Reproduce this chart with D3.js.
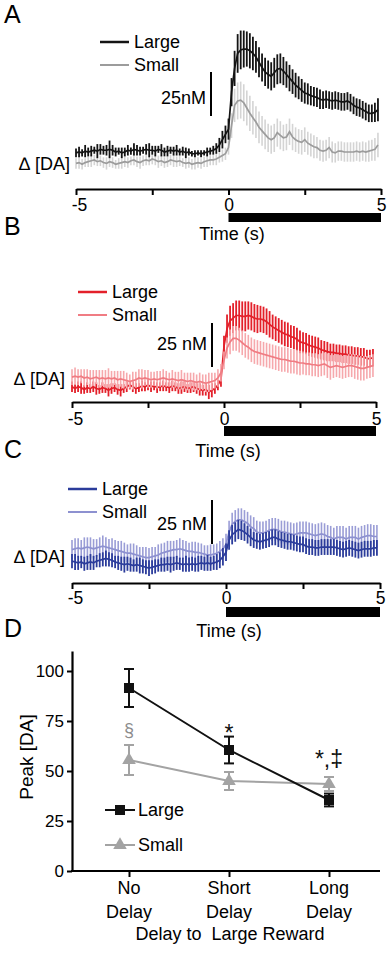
<!DOCTYPE html>
<html>
<head>
<meta charset="utf-8">
<script src="https://cdnjs.cloudflare.com/ajax/libs/d3/7.8.5/d3.min.js"></script>
<style>
	body { margin: 0; background: #fff; }
	svg { display: block; font-family: "Liberation Sans", Arial, sans-serif; }
</style>
</head>
<body>
<div id="fig"></div>
<script>
// sample times, -5 to 4.9 s every 0.1 s
var times = d3.range(100).map(function(i) { return Math.round(-50 + i) / 10; });
var timeTicks = [-5, -2.5, 0, 2.5, 5];

// panel A, change in DA (nM), mean and sem
var largeA = [-0.5,0,-0.5,0.5,0,0.5,1,0.5,1.5,1, 1,1.5,1,0,0.5,-0.5,0,1,0.5,1.5,
	1,0.5,1,1.5,1,1,0.5,1.5,1,0, 0.5,1,0.5,1,0,0.5,-0.5,0,-1,-1,
	-0.5,-1,-0.5,0,0.5,1,2,4,7,10,
	13,34,47.5,56,58,58.5,58.5,57.5,56,54, 51,48,45.5,44,43,45,47,47.5,46,44,
	42,40,38,36.5,35,33.5,33,32,31.5,31, 30,29.5,30,29.5,29,29.5,29,28.5,28.5,29,
	28,26.5,25.5,25,24,23,22,22,22.5,24];
var largeAErr = [2.5,3,2,3.5,2.5,3,2,4,3,2.5, 3,5,3,2.5,2,3,2.5,3,2,3.5,
	3,2.5,2,3,4,2.5,3,2,3.5,2.5, 3,2,2.5,3,2,2.5,3,2,1.5,2,
	1.5,2,1.5,2.5,2,2.5,3,4,5,5,
	6,8,10,11,11,10.5,10,10,9.5,9, 8.5,8,8,8,8,8.5,8.5,8.5,8,7.5,
	7.5,7,7,6.5,6.5,6,6,5.5,5.5,5.5, 5.5,5,5,5,5,5,5,5,5,5,
	5,5,5,5,5,5,5,5,5.5,6.5];
var smallA = [-6.5,-6,-7,-6,-5.5,-5,-4.5,-5.5,-5,-6, -6.5,-5.5,-6,-7,-6.5,-6,-5.5,-6,-5,-4.5,
	-5.5,-6,-5,-4.5,-5,-4,-4.5,-5.5,-5,-6, -5.5,-4.5,-5,-5.5,-5,-6,-6.5,-6,-7,-6.5,
	-6,-6.5,-5.5,-5,-4.5,-4.5,-4,-3,-2,-1,
	2.5,15,26.5,29,29.5,28,25,22,19.5,17, 14,12,10,8,7,8,11,9.5,8,8.5,
	11.5,8.5,7,6,5.5,7,5,4,3,2.5, 1,0.5,1,2.5,0,-0.5,0.5,0.5,0,0,
	0,0,0.5,0,0.5,0,0.5,1,1.5,4];
var smallAErr = [3,3.5,3,2.5,3,3.5,3,2.5,3,3, 3.5,3,3,2.5,3,3.5,3,3,2.5,3,
	3,3.5,3,3,2.5,3,3,3.5,3,3, 3,3,3.5,3,3,2.5,3,3,3,3.5,
	3,3,3,3.5,3,3,3.5,3,3.5,3.5,
	4,7,9.5,10.5,10.5,10.5,10,10,9.5,9, 9,8.5,8.5,8,8,8,8,8,7.5,7.5,
	7.5,7.5,7,7,7,7,6.5,6.5,6.5,6, 6,6,6,6,6,5.5,5.5,5.5,5.5,5.5,
	5.5,5.5,5.5,5.5,5.5,5.5,6,6,6.5,7];

// panel B
var largeB = [-1,-2,-1,-1.5,-2.5,-1.5,-2,-1,-2,-2.5, -1.5,-2,-3,-2,-1.5,-2.5,-3,-2,-1,0,
	-1,-2,-1.5,-0.5,-1,0,-1,-0.5,-1.5,-1, -0.5,-1,-1.5,-0.5,-1,-2,-1.5,-1,-2,-1.5,
	-1,-2,-2.5,-3,-2.5,-4,-3,-2,0,3,
	22,32,36.5,38,39.5,39.5,39,39,39.5,39, 38,37.5,37.5,37,36,34.5,33,32,31,30,
	29,28.5,27.5,27,26,24.5,24,23.5,22.5,22, 21.5,21,20,19.5,19,18.5,18.5,18,18,17.5,
	17.5,17,17,16.5,16.5,16,16,15,15,15.5];
var largeBErr = [3,2.5,3,3.5,2.5,3,2.5,3,3.5,2.5, 3,2.5,3.5,3,2.5,3,3.5,2.5,3,2.5,
	3,3,2.5,3,2.5,3,3,2.5,3,2.5, 3,2.5,3,3,2.5,3,3.5,3,2.5,3,
	3,3,3.5,3,3.5,4,4,3,3,4,
	6,8,8.5,8.5,8.5,8.5,8.5,8.5,8,8, 8,8,7.5,7.5,7.5,7.5,7,7,7,7,
	7,7,6.5,6.5,6.5,6.5,6,6,6,6, 6,6,5.5,5.5,5.5,5,5,5,5,5,
	5,5,5,5,5,5,5,5,5,5];
var smallB = [4.5,5,4.5,5,4,4.5,3.5,4,4.5,3.5, 4,3.5,4,3.5,4,3,3.5,3,2.5,2,
	2.5,3,4,3.5,4,3.5,3,3.5,3,3.5, 4,3.5,3,3.5,3,2.5,3,2.5,2,2.5,
	2,1.5,2,1.5,1,1.5,2,2.5,4,7,
	14,21,24.5,26.5,26.5,25.5,24,22.5,21.5,20, 19,18.5,18,17.5,17,16.5,16,15.5,15,14.5,
	14.5,14,13.5,13.5,13,12.5,12.5,12,12,11.5, 11.5,11,11.5,12,11,10,10.5,11,10.5,10,
	10.5,11,11,10.5,10,9.5,9.5,10,10.5,11];
var smallBErr = [4.5,5,4.5,4,5,4.5,5,4.5,4,5, 4.5,5,5.5,4.5,4,5,4.5,5,4.5,4,
	5,4.5,5,5.5,4.5,5,4.5,4,5,4.5, 5,4.5,4,5,4.5,5,5.5,4.5,5,4.5,
	5,4.5,5,4.5,5,5.5,5,4.5,5,5,
	5,6,7,7,7,7,7,7,7,7, 7,7,7,7,7,7,7,7,7,7,
	7,7,7,7,7,7,6.5,6.5,6.5,6.5, 6.5,6.5,6.5,6.5,7,7,6.5,6.5,6.5,6.5,
	6.5,6.5,6.5,7,7,7,7,6.5,6.5,6.5];

// panel C
var largeC = [0.5,0,-0.5,0,-1,-0.5,0,-0.5,0.5,1, 1.5,2,1.5,1,0,-0.5,-1,-1.5,-1,-1.5,
	-2,-1.5,-2,-2.5,-3,-3.5,-3,-2.5,-2,-1.5, -1.5,-1,-1.5,-1,-0.5,-1,-1.5,-1,-1.5,-1,
	-1.5,-1,-0.5,-1,-0.5,-1,-0.5,0,1,3,
	5.5,12.5,15.5,17,18.5,18,17,15.5,14,12.5, 12,11.5,12,12.5,13,14,14,13,12.5,12,
	11.5,11.5,11,10.5,10,10,9,8.5,8.5,8, 8,8.5,8.5,8.5,8.5,8.5,8,7.5,7,7.5,
	8,7.5,7,6.5,7,7.5,7.5,7.5,8,8];
var largeCErr = [4,4.5,4,3.5,4,4,4.5,4,3.5,4, 4,4.5,4,4,3.5,4,4,4.5,4,4,
	3.5,4,4.5,4,4,4.5,4,4,3.5,4, 4,4,4.5,4,4,3.5,4,4.5,4,4,
	4,4.5,4,4,4.5,4,4,4.5,4.5,5,
	5,5.5,5.5,5.5,5.5,5.5,5,5,5,4.5, 4.5,4.5,4.5,4.5,4.5,4.5,4.5,4.5,4.5,4.5,
	4.5,4.5,4.5,4.5,4.5,4.5,4.5,4.5,4.5,4.5, 4.5,4.5,4.5,4.5,4.5,4.5,4.5,4.5,4.5,4.5,
	4.5,4.5,4.5,4.5,4.5,4.5,4.5,4.5,4.5,4.5];
var smallC = [7,7.5,8,7.5,8,8.5,8,7.5,8,8.5, 9,8.5,8,7.5,7,6.5,6,5.5,5,5,
	4.5,4,3.5,3,2.5,2.5,3,3.5,4,5, 5.5,6,6.5,7,7,7.5,7,6.5,6,6,
	5.5,5.5,5,4.5,4,4,4.5,5,6,7.5,
	10,17,21.5,23,24,24,23,22,20,19, 17,16.5,16.5,17,18,18.5,18.5,18,17,17,
	16.5,16,15.5,16,16.5,16.5,16.5,16,15.5,15, 15.5,16,15.5,14.5,14,13,14,14,14,13,
	14,14,14,13,14,14.5,15,15,14.5,14.5];
var smallCErr = [5.5,6,5.5,5,6,5.5,6,5.5,5,5.5, 6,5.5,5,6,5.5,5.5,6,5.5,5,5.5,
	6,5.5,5,5.5,6,5.5,5.5,5,6,5.5, 5.5,6,5.5,5,5.5,6,5.5,5.5,5,5.5,
	6,5.5,5.5,5,5.5,6,5.5,5.5,6,6,
	6,6.5,6.5,6.5,6.5,6.5,6.5,6.5,6.5,6.5, 6.5,6.5,6.5,6.5,6.5,6.5,6.5,6.5,6.5,6.5,
	6.5,6.5,6.5,6.5,6.5,6.5,6.5,6.5,6.5,6.5, 6.5,6.5,6.5,6.5,6.5,6.5,6.5,6.5,6.5,6.5,
	6.5,6.5,6.5,6.5,6.5,6.5,6.5,6.5,6.5,6.5];

// panel D, peak DA by delay
var delayCats = ["No Delay", "Short Delay", "Long Delay"];
var peakLarge = [91.5, 60.5, 35.5];
var peakLargeErr = [9.5, 6.7, 3.2];
var peakSmall = [55.5, 45, 43.5];
var peakSmallErr = [7.5, 4.5, 3.5];
var peakTicks = [0, 25, 50, 75, 100];
var sigMarks = ["§", "*", "*,‡"];

var svg = d3.select("#fig")
	.append("svg")
	.attr("width", 387)
	.attr("height", 959);

var panels = [
	{ letter: "A", letterY: 23, x0: 76, x1: 381, axisY: 189, zeroY: 152,
		large: largeA, largeErr: largeAErr, small: smallA, smallErr: smallAErr, smallOnTop: false,
		largeCol: "#141414", largeBar: "#141414", smallCol: "#9c9c9c", smallBar: "#d4d4d4",
		legX: 100, legY: 42, scaleX: 211, scaleTop: 72, scaleLabel: "25nM", scaleLabY: 104,
		daX: 70, daY: 170, tickY: 211, barTop: 213, barH: 9, timeX: 232, timeY: 240 },
	{ letter: "B", letterY: 235, x0: 72, x1: 376, axisY: 402, zeroY: 385,
		large: largeB, largeErr: largeBErr, small: smallB, smallErr: smallBErr, smallOnTop: true,
		largeCol: "#e3202a", largeBar: "#e3202a", smallCol: "#f07c83", smallBar: "#f6a8ac",
		legX: 78, legY: 292, scaleX: 212, scaleTop: 323, scaleLabel: "25 nM", scaleLabY: 350,
		daX: 65, daY: 385, tickY: 425, barTop: 426, barH: 10, timeX: 228, timeY: 457 },
	{ letter: "C", letterY: 458, x0: 72, x1: 380, axisY: 583, zeroY: 562,
		large: largeC, largeErr: largeCErr, small: smallC, smallErr: smallCErr, smallOnTop: false,
		largeCol: "#2b3c9b", largeBar: "#2b3c9b", smallCol: "#8d91d0", smallBar: "#9a9dd6",
		legX: 68, legY: 489, scaleX: 212, scaleTop: 500, scaleLabel: "25 nM", scaleLabY: 530,
		daX: 65, daY: 563, tickY: 604, barTop: 607, barH: 10, timeX: 229, timeY: 637 }
];

panels.forEach(drawTrace);
drawPeaks();

function drawTrace(p) {
	var g = svg.append("g");
	var x = d3.scaleLinear().domain([-5, 5]).range([p.x0, p.x1]);
	// 25 nM is about 44 px in every trace panel
	var y = d3.scaleLinear().domain([0, 25]).range([p.zeroY, p.zeroY - 44]);

	g.append("text")
		.attr("x", 4)
		.attr("y", p.letterY)
		.style("font-size", "25px")
		.text(p.letter);

	var line = d3.line()
		.x(function(d, i) { return x(times[i]); })
		.y(function(d) { return y(d); });

	var series = [
		{ v: p.small, e: p.smallErr, col: p.smallCol, bar: p.smallBar, w: 1.6 },
		{ v: p.large, e: p.largeErr, col: p.largeCol, bar: p.largeBar, w: 1.8 }
	];
	if (p.smallOnTop) series.reverse();
	series.forEach(function(s) {
		g.append("g")
			.selectAll("line")
			.data(s.v)
			.enter()
			.append("line")
			.attr("x1", function(d, i) { return x(times[i]); })
			.attr("x2", function(d, i) { return x(times[i]); })
			.attr("y1", function(d, i) { return y(d - s.e[i]); })
			.attr("y2", function(d, i) { return y(d + s.e[i]); })
			.style("stroke", s.bar)
			.style("stroke-width", s.w);
		g.append("path")
			.datum(s.v)
			.attr("d", line)
			.style("fill", "none")
			.style("stroke", s.col)
			.style("stroke-width", 1.7);
	});

	// legend
	var leg = [["Large", p.largeCol], ["Small", p.smallCol]];
	leg.forEach(function(l, i) {
		g.append("line")
			.attr("x1", p.legX).attr("x2", p.legX + 29)
			.attr("y1", p.legY + i * 23).attr("y2", p.legY + i * 23)
			.style("stroke", l[1])
			.style("stroke-width", i == 0 ? 2.5 : 2);
		g.append("text")
			.attr("x", p.legX + 34)
			.attr("y", p.legY + i * 23 + 6)
			.style("font-size", "18px")
			.text(l[0]);
	});

	// scale bar
	g.append("line")
		.attr("x1", p.scaleX).attr("x2", p.scaleX)
		.attr("y1", p.scaleTop).attr("y2", p.scaleTop + (y(0) - y(25)))
		.style("stroke", "#000")
		.style("stroke-width", 2);
	g.append("text")
		.attr("x", p.scaleX - 5)
		.attr("y", p.scaleLabY)
		.attr("text-anchor", "end")
		.style("font-size", "18px")
		.text(p.scaleLabel);

	g.append("text")
		.attr("x", p.daX)
		.attr("y", p.daY)
		.attr("text-anchor", "end")
		.style("font-size", "18px")
		.text("\u2206 [DA]");

	// time axis
	var ax = g.append("g")
		.attr("transform", "translate(0," + p.axisY + ")")
		.call(d3.axisBottom(x)
			.tickValues(timeTicks)
			.tickSize(6)
			.tickSizeOuter(0)
			.tickFormat(function(d) { return d % 5 == 0 ? (d < 0 ? "-" + (-d) : "" + d) : ""; }));
	ax.select(".domain").style("stroke-width", 2.2);
	ax.selectAll(".tick line").style("stroke-width", 2);
	ax.selectAll(".tick text")
		.attr("y", p.tickY - p.axisY)
		.attr("dy", 0)
		.style("font-family", "Liberation Sans, Arial, sans-serif")
		.style("font-size", "17.5px")
		.attr("dx", function(d) { return d < 0 ? 3 : 0; });

	// reward bar 0 to 5 s
	g.append("rect")
		.attr("x", x(0))
		.attr("y", p.barTop)
		.attr("width", x(5) - x(0))
		.attr("height", p.barH)
		.style("fill", "#000");

	g.append("text")
		.attr("x", p.timeX)
		.attr("y", p.timeY)
		.attr("text-anchor", "middle")
		.style("font-size", "18px")
		.text("Time (s)");
}

function drawPeaks() {
	var g = svg.append("g");
	var x = d3.scalePoint().domain(delayCats).range([129, 329]);
	var y = d3.scaleLinear().domain([0, 110]).range([871, 651]);

	g.append("text")
		.attr("x", 4)
		.attr("y", 637)
		.style("font-size", "25px")
		.text("D");

	// y axis
	var ay = g.append("g")
		.attr("transform", "translate(72,0)")
		.call(d3.axisLeft(y).tickValues(peakTicks).tickSize(5).tickSizeOuter(0));
	ay.select(".domain").style("stroke-width", 2.2);
	ay.selectAll(".tick line").style("stroke-width", 2);
	ay.selectAll(".tick text")
		.style("font-family", "Liberation Sans, Arial, sans-serif")
		.style("font-size", "17px")
		.attr("x", -8);

	// x axis
	var axg = g.append("g")
		.attr("transform", "translate(0,871)")
		.call(d3.axisBottom(x).tickSize(6).tickSizeOuter(0).tickFormat(""));
	axg.select(".domain").remove();
	axg.selectAll(".tick line").style("stroke-width", 2);
	g.append("line")
		.attr("x1", 71).attr("x2", 380)
		.attr("y1", 871).attr("y2", 871)
		.style("stroke", "#000")
		.style("stroke-width", 2.2);

	delayCats.forEach(function(c) {
		var parts = c.split(" ");
		parts.forEach(function(w, j) {
			g.append("text")
				.attr("x", x(c))
				.attr("y", 894 + j * 24)
				.attr("text-anchor", "middle")
				.style("font-size", "18px")
				.text(w);
		});
	});

	g.append("text")
		.attr("x", 230)
		.attr("y", 940)
		.attr("text-anchor", "middle")
		.style("font-size", "18px")
		.style("white-space", "pre")
		.text("Delay to  Large Reward");

	g.append("text")
		.attr("transform", "translate(33,757) rotate(-90)")
		.attr("text-anchor", "middle")
		.style("font-size", "19px")
		.text("Peak [DA]");

	var groups = [
		{ v: peakSmall, e: peakSmallErr, col: "#a3a3a3", sym: d3.symbolTriangle, size: 80 },
		{ v: peakLarge, e: peakLargeErr, col: "#111", sym: d3.symbolSquare, size: 100 }
	];
	groups.forEach(function(s) {
		g.append("path")
			.datum(s.v)
			.attr("d", d3.line()
				.x(function(d, i) { return x(delayCats[i]); })
				.y(function(d) { return y(d); }))
			.style("fill", "none")
			.style("stroke", s.col)
			.style("stroke-width", 2);

		var eb = g.append("g")
			.selectAll("g")
			.data(s.v)
			.enter()
			.append("g");
		eb.append("line")
			.attr("x1", function(d, i) { return x(delayCats[i]); })
			.attr("x2", function(d, i) { return x(delayCats[i]); })
			.attr("y1", function(d, i) { return y(d - s.e[i]); })
			.attr("y2", function(d, i) { return y(d + s.e[i]); })
			.style("stroke", s.col)
			.style("stroke-width", 2);
		[-1, 1].forEach(function(sg) {
			eb.append("line")
				.attr("x1", function(d, i) { return x(delayCats[i]) - 5; })
				.attr("x2", function(d, i) { return x(delayCats[i]) + 5; })
				.attr("y1", function(d, i) { return y(d + sg * s.e[i]); })
				.attr("y2", function(d, i) { return y(d + sg * s.e[i]); })
				.style("stroke", s.col)
				.style("stroke-width", 2);
		});
		eb.append("path")
			.attr("d", d3.symbol().type(s.sym).size(s.size))
			.attr("transform", function(d, i) {
				return "translate(" + x(delayCats[i]) + "," + y(d) + ")";
			})
			.style("fill", s.col);
	});

	// significance marks
	var markY = [peakSmall[0] + peakSmallErr[0], peakLarge[1] + peakLargeErr[1], peakSmall[2] + peakSmallErr[2]];
	var markDy = [-9, 4, -10];
	var markCol = ["#8c8c8c", "#111", "#111"];
	sigMarks.forEach(function(m, i) {
		g.append("text")
			.attr("x", x(delayCats[i]))
			.attr("y", y(markY[i]) + markDy[i])
			.attr("text-anchor", "middle")
			.style("font-size", i == 0 ? "18px" : "23px")
			.style("fill", markCol[i])
			.text(m);
	});

	// legend
	var leg = [["Large", "#111", d3.symbolSquare, 100, 810], ["Small", "#a3a3a3", d3.symbolTriangle, 80, 845]];
	leg.forEach(function(l) {
		g.append("line")
			.attr("x1", 105).attr("x2", 135)
			.attr("y1", l[4]).attr("y2", l[4])
			.style("stroke", l[1])
			.style("stroke-width", 2);
		g.append("path")
			.attr("d", d3.symbol().type(l[2]).size(l[3]))
			.attr("transform", "translate(120," + l[4] + ")")
			.style("fill", l[1]);
		g.append("text")
			.attr("x", 138)
			.attr("y", l[4] + 6)
			.style("font-size", "18px")
			.text(l[0]);
	});
}
</script>
</body>
</html>
